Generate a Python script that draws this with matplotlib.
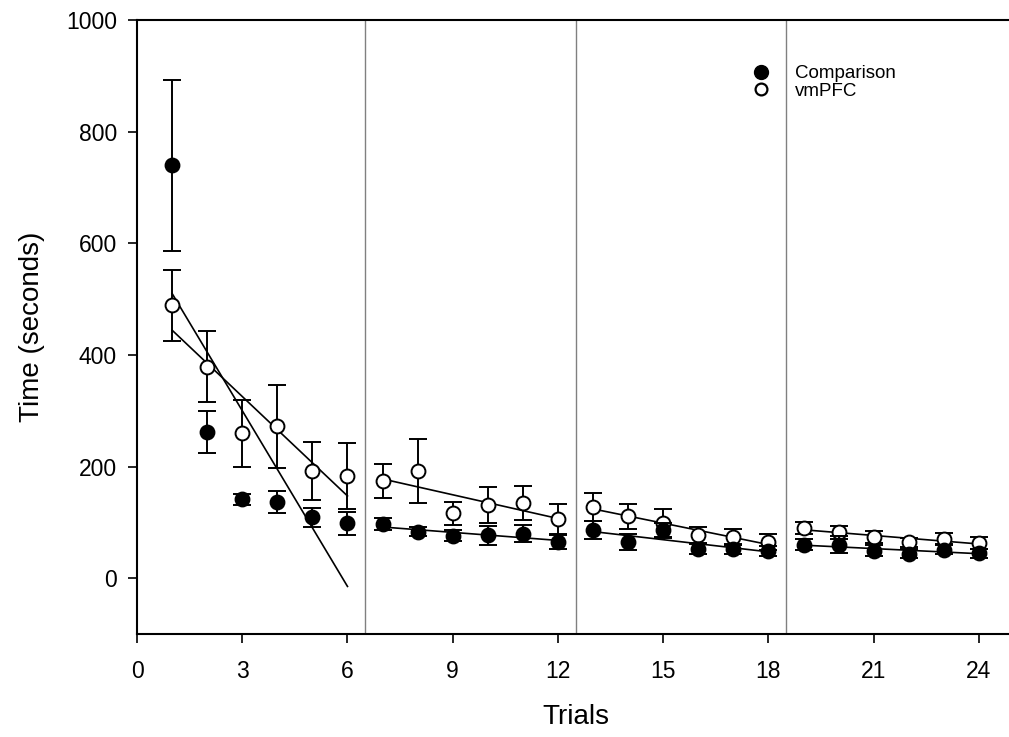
import numpy as np
import matplotlib
matplotlib.use("Agg")
import matplotlib.pyplot as plt
from matplotlib.lines import Line2D

plt.rcParams['font.family'] = ['Liberation Sans', 'DejaVu Sans']

trials = np.arange(1, 25)
comp_mean = [740, 262, 141, 136, 109, 98,
             97, 83, 76, 77, 80, 65,
             86, 65, 86, 53, 53, 49,
             60, 60, 49, 44, 51, 45]
comp_err = [153, 38, 10, 20, 17, 20,
            10, 8, 10, 17, 16, 12,
            16, 14, 12, 10, 9, 9,
            10, 15, 10, 8, 8, 8]
vm_mean = [489, 379, 260, 272, 192, 183,
           174, 192, 116, 131, 135, 106,
           128, 111, 98, 77, 74, 65,
           90, 82, 74, 64, 71, 63]
vm_err = [64, 63, 60, 74, 52, 59,
          30, 57, 20, 33, 30, 27,
          25, 22, 26, 15, 14, 14,
          11, 11, 11, 8, 10, 10]
blocks = [(1, 6), (7, 12), (13, 18), (19, 24)]
separators = [6.5, 12.5, 18.5]
xticks = [0, 3, 6, 9, 12, 15, 18, 21, 24]
yticks = [0, 200, 400, 600, 800, 1000]

W, H = 1009, 737
fig = plt.figure(figsize=(W / 100, H / 100), dpi=100)
ax = fig.add_axes([137 / W, 103 / H, (1014 - 137) / W, 614 / H])

ax.set_xlim(0, 25)
ax.set_ylim(-100, 1000)

for s in separators:
    ax.axvline(s, color='#808080', lw=1.0, zorder=1)

cm = np.array(comp_mean, float)
vm = np.array(vm_mean, float)
for a, b in blocks:
    idx = (trials >= a) & (trials <= b)
    x = trials[idx]
    for yv in (cm[idx], vm[idx]):
        k, c = np.polyfit(x, yv, 1)
        xs = np.array([a, b])
        ax.plot(xs, k * xs + c, color='black', lw=1.2, zorder=2)

ax.errorbar(trials, vm_mean, yerr=vm_err, fmt='o', color='black', mfc='white',
            mec='black', mew=1.4, ms=10, elinewidth=1.4, capsize=6.5, capthick=1.4,
            zorder=4)
ax.errorbar(trials, comp_mean, yerr=comp_err, fmt='o', color='black', mfc='black',
            mec='black', mew=1.4, ms=10, elinewidth=1.4, capsize=6.5, capthick=1.4,
            zorder=5)

ax.set_xticks(xticks)
ax.set_yticks(yticks)
ax.tick_params(direction='out', length=6.5, width=1.2, labelsize=16.5)
ax.tick_params(axis='x', pad=12)
ax.tick_params(axis='y', pad=8)
for sp in ax.spines.values():
    sp.set_linewidth(1.5)
ax.spines['right'].set_visible(False)

ax.set_xlabel('Trials', fontsize=20, labelpad=15)
ax.set_ylabel('Time (seconds)', fontsize=20, labelpad=15)

handles = [Line2D([], [], marker='o', ls='none', color='black', mfc='black', ms=10),
           Line2D([], [], marker='o', ls='none', color='black', mfc='white', mew=1.6, ms=8.5)]
leg = ax.legend(handles, ['Comparison', 'vmPFC'], loc='upper left',
                bbox_to_anchor=(742 / W, 1 - 56 / H), bbox_transform=fig.transFigure,
                frameon=False, fontsize=13.5, handlelength=1.0, handletextpad=1.3,
                labelspacing=0.0, borderpad=0)

fig.savefig('out.png', dpi=100)
